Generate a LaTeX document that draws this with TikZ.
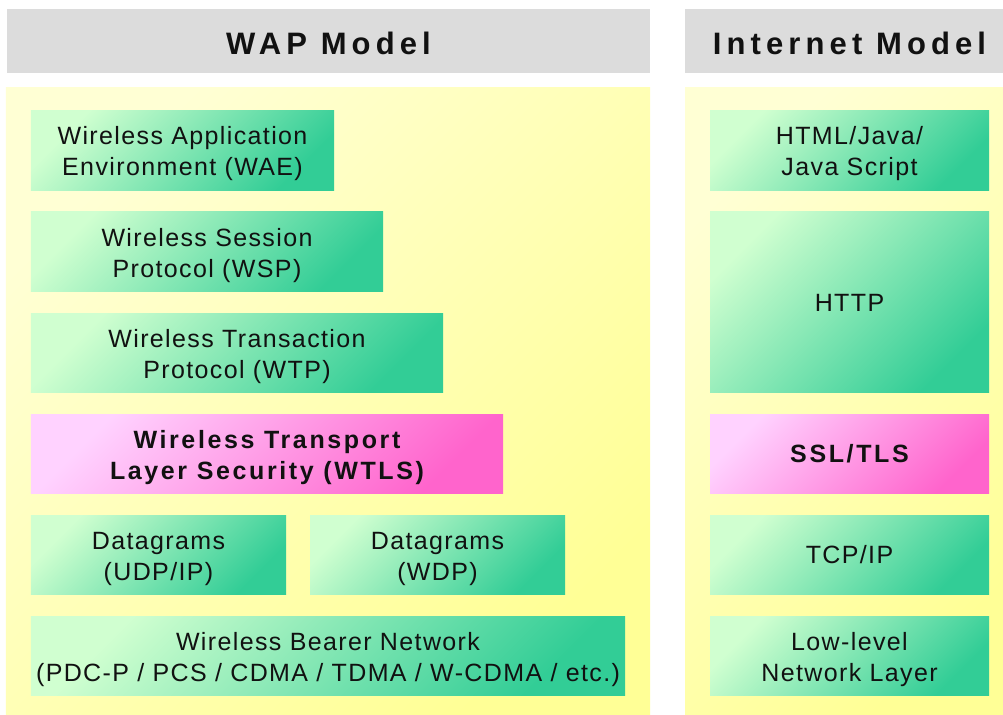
\documentclass[tikz,border=0pt]{standalone}
\usepackage{fontspec}
\setmainfont{Liberation Sans}[LetterSpace=5.5, BoldFeatures={LetterSpace=10.5}]
\newfontfamily\headfont{Liberation Sans}[LetterSpace=16.5]

\definecolor{hdrgray}{RGB}{220,220,220}
\definecolor{ylwA}{RGB}{255,255,212}
\definecolor{ylwB}{RGB}{255,255,150}
\definecolor{grnA}{RGB}{208,255,208}
\definecolor{grnB}{RGB}{50,205,150}
\definecolor{pnkA}{RGB}{255,210,255}
\definecolor{pnkB}{RGB}{255,100,204}
\definecolor{ink}{RGB}{17,17,17}

\tikzset{
  header/.style={fill=hdrgray, draw=none, inner sep=0pt, text=ink,
    text height=27bp, text depth=0bp,
    font=\headfont\bfseries\fontsize{31bp}{36bp}\selectfont},
  panel/.style={draw=none, inner sep=0pt, top color=ylwA, bottom color=ylwB, shading angle=45},
  layer/.style={draw=none, inner sep=0pt, align=center, text=ink,
    font=\fontsize{25bp}{31bp}\selectfont},
  greenbox/.style={layer, top color=grnA, bottom color=grnB, shading angle=45},
  pinkbox/.style={layer, top color=pnkA, bottom color=pnkB, shading angle=45,
    font=\bfseries\fontsize{25bp}{31bp}\selectfont},
  twoline/.style={text height=51bp, text depth=0bp},
  oneline/.style={text height=18bp, text depth=0bp},
}

\begin{document}
\begin{tikzpicture}[x=1bp, y=-1bp]
  \useasboundingbox (0,0) rectangle (1003,715);
  \fill[white] (0,0) rectangle (1003,715);

  % column headings
  \node[header, minimum width=643bp, minimum height=64bp] (waphead) at (328.5,41) {WAP Model};
  \node[header, minimum width=329bp, minimum height=64bp] (nethead) at (849.5,41) {Internet Model};

  % column panels
  \node[panel, minimum width=644bp, minimum height=627bp] (wappanel) at (328,401.5) {};
  \node[panel, minimum width=329bp, minimum height=627bp] (netpanel) at (849.5,401.5) {};

  % WAP stack
  \node[greenbox, twoline, minimum width=303bp, minimum height=79bp] (wae) at (182.5,150.5)
    {Wireless Application\\Environment (WAE)};
  \node[greenbox, twoline, minimum width=352bp, minimum height=79bp] (wsp) at (207,251.5)
    {Wireless Session\\Protocol (WSP)};
  \node[greenbox, twoline, minimum width=412bp, minimum height=79bp] (wtp) at (237,352.5)
    {Wireless Transaction\\Protocol (WTP)};
  \node[pinkbox, twoline, minimum width=472bp, minimum height=79bp] (wtls) at (267,453.5)
    {Wireless Transport\\Layer Security (WTLS)};
  \node[greenbox, twoline, minimum width=255bp, minimum height=79bp] (udp) at (158.5,554.5)
    {Datagrams\\(UDP/IP)};
  \node[greenbox, twoline, minimum width=255bp, minimum height=79bp] (wdp) at (437.5,554.5)
    {Datagrams\\(WDP)};
  \node[greenbox, twoline, minimum width=594bp, minimum height=79bp] (bearer) at (328,655.5)
    {Wireless Bearer Network\\(PDC-P / PCS / CDMA / TDMA / W-CDMA / etc.)};

  % Internet stack
  \node[greenbox, twoline, minimum width=279bp, minimum height=79bp] (html) at (849.5,150.5)
    {HTML/Java/\\Java Script};
  \node[greenbox, oneline, minimum width=279bp, minimum height=180bp] (http) at (849.5,302)
    {HTTP};
  \node[pinkbox, oneline, minimum width=279bp, minimum height=79bp] (ssl) at (849.5,453.5)
    {SSL/TLS};
  \node[greenbox, oneline, minimum width=279bp, minimum height=79bp] (tcp) at (849.5,554.5)
    {TCP/IP};
  \node[greenbox, twoline, minimum width=279bp, minimum height=79bp] (lowlevel) at (849.5,655.5)
    {Low-level\\Network Layer};
\end{tikzpicture}
\end{document}
